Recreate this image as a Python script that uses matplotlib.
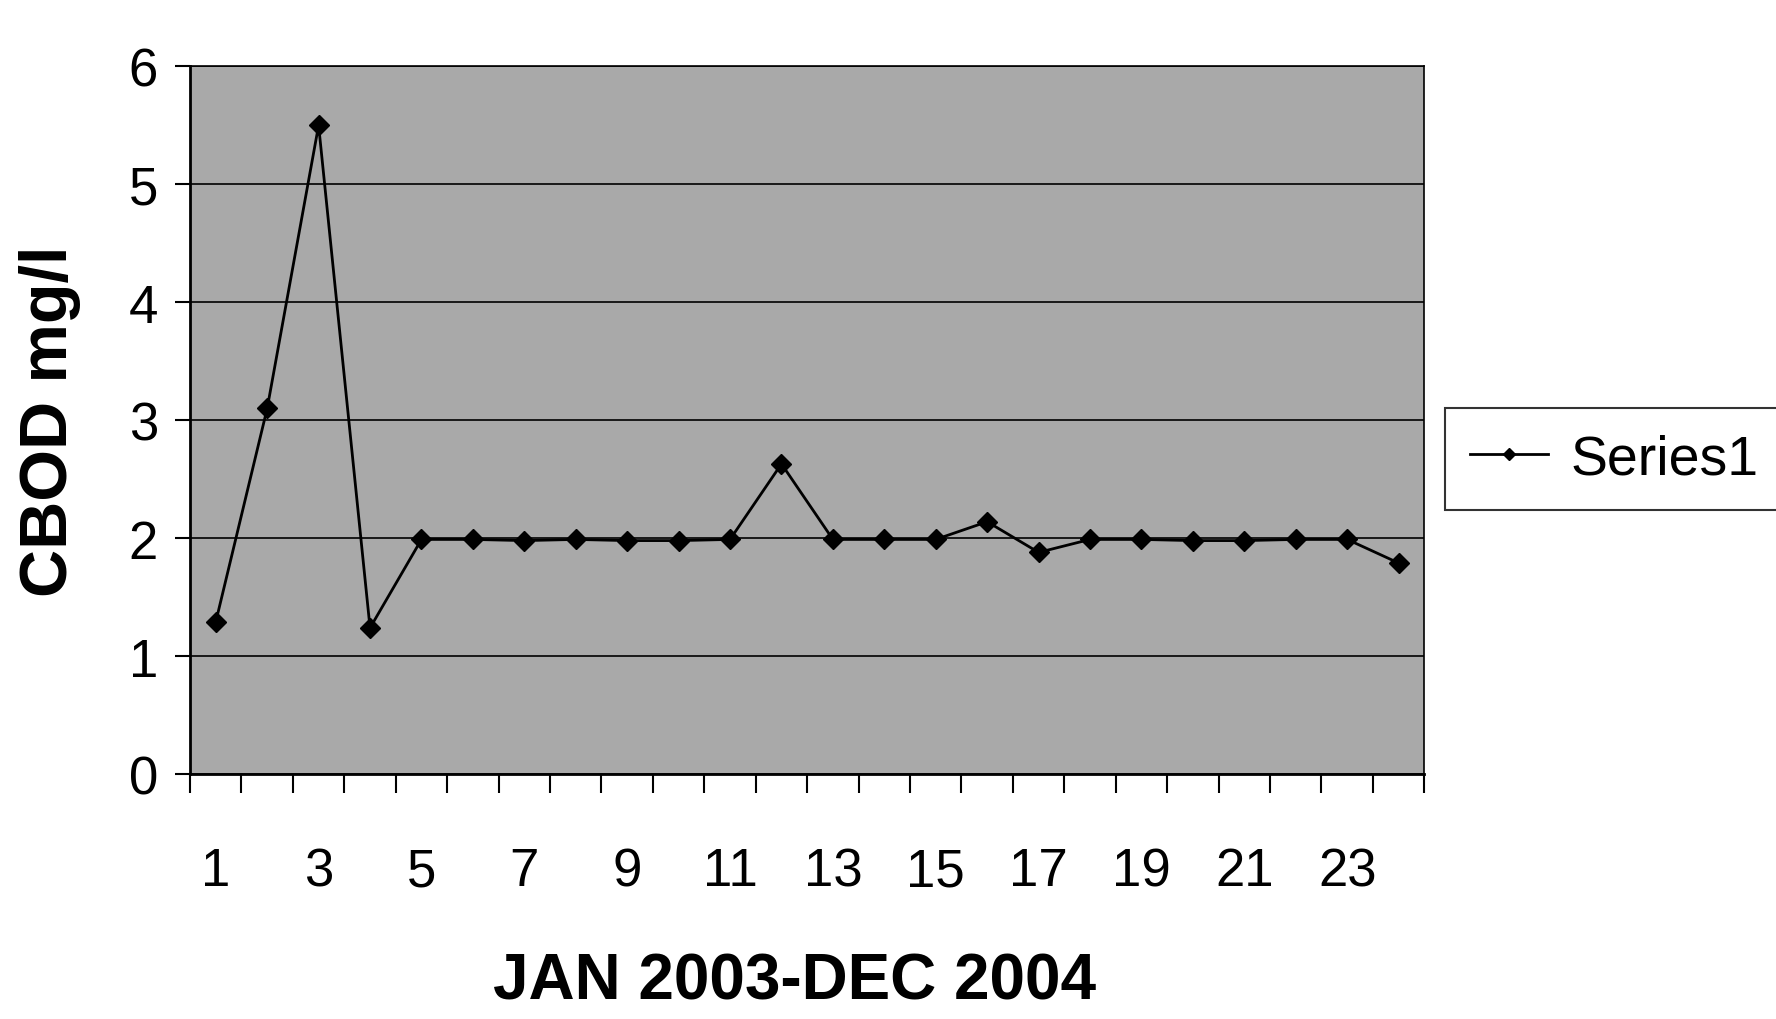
import matplotlib
matplotlib.use("Agg")
import matplotlib.pyplot as plt
from matplotlib.ticker import FixedLocator

# monthly CBOD readings, Jan 2003 - Dec 2004
months = list(range(1, 25))
cbod = [1.29, 3.10, 5.50, 1.24, 1.99, 1.99, 1.98, 1.99, 1.98, 1.98, 1.99, 2.63,
        1.99, 1.99, 1.99, 2.14, 1.88, 1.99, 1.99, 1.98, 1.98, 1.99, 1.99, 1.79]
month_labels = [str(m) if m % 2 == 1 else "" for m in months]
y_ticks = [0, 1, 2, 3, 4, 5, 6]

plt.rcParams["font.family"] = ["Liberation Sans", "DejaVu Sans"]

fig = plt.figure(figsize=(17.76, 10.2), dpi=100)
ax = fig.add_axes([0.107, 0.240, 0.695, 0.694])
ax.set_facecolor("#a9a9a9")

ax.plot(months, cbod, color="black", lw=2, marker="D", ms=10,
        mfc="black", mec="black", label="Series1")

ax.set_xlim(0.5, 24.5)
ax.set_ylim(0, 6)
ax.set_yticks(y_ticks)
ax.yaxis.grid(True, color="black", lw=1.2)
ax.set_axisbelow(True)

# category axis: labels at the centres, tick marks between categories
ax.set_xticks(months)
ax.set_xticklabels(month_labels)
ax.xaxis.set_minor_locator(FixedLocator([m + 0.5 for m in [0] + months]))
ax.tick_params(axis="x", which="major", length=0, pad=52, labelsize=38)
ax.tick_params(axis="x", which="minor", length=14, width=1.5, direction="out")
ax.tick_params(axis="y", length=11, width=1.5, pad=12, labelsize=38)

for side in ["left", "bottom"]:
    ax.spines[side].set_linewidth(2)
for side in ["top", "right"]:
    ax.spines[side].set_linewidth(1.2)

ax.set_ylabel("CBOD mg/l", fontsize=48, fontweight="bold")
ax.yaxis.set_label_coords(-0.088, 0.5)
ax.set_xlabel("JAN 2003-DEC 2004", fontsize=46, fontweight="bold")
ax.xaxis.set_label_coords(0.49, -0.25)

leg = ax.legend(loc="center left", bbox_to_anchor=(1.017, 0.445), fontsize=40,
                frameon=True, fancybox=False, edgecolor="black", handlelength=1.4,
                handletextpad=0.4, borderpad=0.45, borderaxespad=0, markerscale=0.6)
leg.get_frame().set_linewidth(1.5)

fig.savefig("out.png", dpi=100)
